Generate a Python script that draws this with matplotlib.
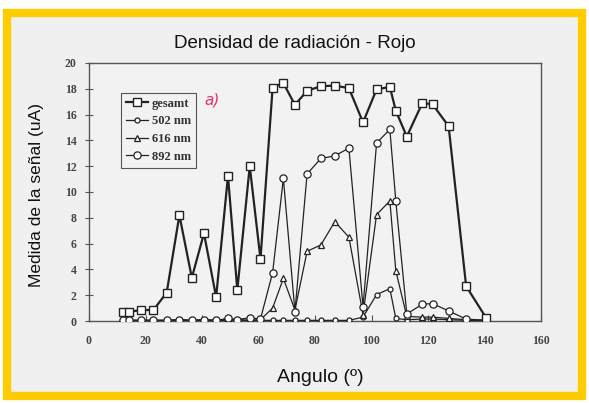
import matplotlib
matplotlib.use("Agg")
import matplotlib.pyplot as plt
from matplotlib.patches import Rectangle

# ---------------- data ----------------
angles = [12, 14, 18.3, 22.8, 27.5, 32, 36.4, 40.7, 45, 49.2, 52.5, 56.9, 60.7,
          65, 68.8, 72.9, 77.2, 82.1, 87, 92, 97, 101.8, 106.5, 108.6, 112.5,
          118, 121.6, 127.3, 133.5, 140.7]

gesamt = [0.7, 0.7, 0.85, 0.85, 2.2, 8.2, 3.35, 6.8, 1.85, 11.25, 2.4, 12.0, 4.8,
          18.1, 18.45, 16.75, 17.85, 18.2, 18.25, 18.05, 15.4, 17.95, 18.15, 16.3, 14.3,
          16.9, 16.8, 15.1, 2.7, 0.2]

nm502 = [0.05, 0.05, 0.05, 0.05, 0.05, 0.05, 0.05, 0.05, 0.05, 0.05, 0.05, 0.05, 0.05,
         0.05, 0.05, 0.05, 0.05, 0.05, 0.05, 0.05, 0.3, 2.05, 2.5, 0.2, 0.1,
         0.15, 0.15, 0.1, 0.05, 0.05]

nm616 = [0.05, 0.05, 0.05, 0.05, 0.05, 0.1, 0.05, 0.1, 0.05, 0.15, 0.1, 0.2, 0.1,
         1.0, 3.3, 0.85, 5.4, 5.9, 7.7, 6.5, 0.5, 8.25, 9.3, 3.9, 0.35,
         0.3, 0.3, 0.2, 0.1, 0.05]

nm892 = [0.05, 0.05, 0.05, 0.05, 0.05, 0.1, 0.05, 0.1, 0.05, 0.2, 0.1, 0.25, 0.15,
         3.75, 11.05, 0.72, 11.4, 12.6, 12.8, 13.4, 1.1, 13.8, 14.85, 9.3, 0.55,
         1.3, 1.35, 0.78, 0.15, 0.05]

series_labels = ["gesamt", "502 nm", "616 nm", "892 nm"]
x_ticks = [0, 20, 40, 60, 80, 100, 120, 140, 160]
y_ticks = [0, 2, 4, 6, 8, 10, 12, 14, 16, 18, 20]

title = "Densidad de radiación - Rojo"
xlabel = "Angulo (º)"
ylabel = "Medida de la señal (uA)"

# ---------------- figure ----------------
W, H = 589, 403
fig = plt.figure(figsize=(W / 100, H / 100), dpi=100, facecolor="white")

# yellow frame with light grey panel (behind everything)
fig.patches.append(Rectangle((7 / W, 1 - 396 / H), 575 / W, 383 / H,
                             transform=fig.transFigure, facecolor="#f0f0f0",
                             edgecolor="#ffcc00", linewidth=6, zorder=-10))

ax = fig.add_axes([89 / W, 1 - 321 / H, (541 - 89) / W, (321 - 63) / H])
ax.set_zorder(1)
ax.set_facecolor("#f2f2f2")

ink = "#222222"
ax.plot(angles, nm502, color=ink, lw=0.9, marker="o", ms=3.6, mfc="white",
        mec=ink, mew=0.9, label=series_labels[1], zorder=3)
ax.plot(angles, nm616, color=ink, lw=0.9, marker="^", ms=5, mfc="white",
        mec=ink, mew=0.9, label=series_labels[2], zorder=3)
ax.plot(angles, nm892, color=ink, lw=0.9, marker="o", ms=5.2, mfc="white",
        mec=ink, mew=0.9, label=series_labels[3], zorder=3)
ax.plot(angles, gesamt, color=ink, lw=1.6, marker="s", ms=6, mfc="white",
        mec=ink, mew=1.0, label=series_labels[0], zorder=4)

ax.set_xlim(0, 160)
ax.set_ylim(0, 20)
ax.set_xticks(x_ticks)
ax.set_yticks(y_ticks)

serif = "Liberation Serif"
for lab in ax.get_xticklabels() + ax.get_yticklabels():
    lab.set_fontfamily(serif)
    lab.set_fontweight("bold")
    lab.set_fontsize(8.5)
    lab.set_color("#444444")

ax.tick_params(axis="y", direction="inout", length=6, width=0.8, color="#555555", pad=6)
ax.tick_params(axis="x", direction="in", length=4, width=0.8, color="#555555", pad=10)
for s in ax.spines.values():
    s.set_color("#555555")
    s.set_linewidth(1.0)

handles, labels = ax.get_legend_handles_labels()
order = [3, 0, 1, 2]
leg = ax.legend([handles[i] for i in order], [labels[i] for i in order],
                loc="upper left", bbox_to_anchor=(0.07, 0.885),
                prop={"family": serif, "weight": "bold", "size": 9},
                frameon=True, fancybox=False, edgecolor="#555555",
                facecolor="#f2f2f2", framealpha=1, handlelength=1.8,
                handletextpad=0.3, borderpad=0.4, labelspacing=0.45,
                borderaxespad=0)
leg.get_frame().set_linewidth(0.8)
for t in leg.get_texts():
    t.set_color("#333333")

ax.text(0.255, 0.855, "a)", transform=ax.transAxes, color="#e0306a",
        fontsize=11, style="italic", fontfamily="DejaVu Sans", va="center")

sans = "Liberation Sans"
fig.text(295 / W, 1 - 44 / H, title, ha="center", va="center",
         fontsize=13.5, fontfamily=sans, color="#111111")
fig.text(320 / W, 1 - 378 / H, xlabel, ha="center", va="center",
         fontsize=14, fontfamily=sans, color="#111111")
fig.text(37 / W, 1 - 195 / H, ylabel, ha="center", va="center", rotation=90,
         fontsize=12.5, fontfamily=sans, color="#111111")

fig.savefig("out.png", dpi=100, facecolor="white")
